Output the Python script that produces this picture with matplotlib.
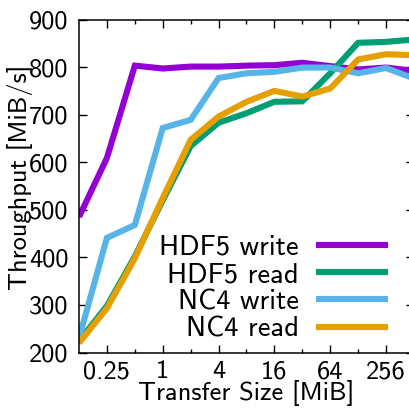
import matplotlib
matplotlib.use("Agg")
import matplotlib.pyplot as plt
from matplotlib.ticker import FixedLocator, FixedFormatter, NullFormatter

# ---- data ----
sizes = [0.125, 0.25, 0.5, 1, 2, 4, 8, 16, 32, 64, 128, 256, 512]
hdf5_write = [485, 609, 803, 797, 801, 801, 803, 804, 809, 802, 795, 799, 792]
hdf5_read = [224, 298, 402, 520, 634, 683, 703, 727, 728, 787, 851, 853, 858]
nc4_write = [230, 441, 468, 672, 689, 777, 787, 790, 799, 799, 787, 798, 776]
nc4_read = [220, 293, 398, 525, 647, 696, 727, 750, 738, 755, 816, 827, 825]

series = [
    ("HDF5 write", hdf5_write, "#9400D3"),
    ("HDF5 read", hdf5_read, "#009E73"),
    ("NC4 write", nc4_write, "#56B4E9"),
    ("NC4 read", nc4_read, "#E69F00"),
]

xticks_major = [0.25, 1, 4, 16, 64, 256]
xtick_labels = ["0.25", "1", "4", "16", "64", "256"]
xticks_minor = [0.5, 2, 8, 32, 128]
yticks = [200, 300, 400, 500, 600, 700, 800, 900]

plt.rcParams["font.family"] = ["cmss10", "DejaVu Sans"]
plt.rcParams["axes.unicode_minus"] = False
FS = 19
LFS = 20.5

fig = plt.figure(figsize=(4.1, 4.08), dpi=100)
ax = fig.add_axes([79 / 410, (408 - 352.5) / 408, 335 / 410, 333 / 408])

for label, vals, color in series:
    ax.plot(sizes, vals, color=color, lw=4.4, label=label, solid_joinstyle="miter",
            solid_capstyle="butt")

ax.set_xscale("log", base=2)
ax.set_xlim(0.125, 512)
ax.set_ylim(200, 900)

ax.xaxis.set_major_locator(FixedLocator(xticks_major))
ax.xaxis.set_major_formatter(FixedFormatter(xtick_labels))
ax.xaxis.set_minor_locator(FixedLocator(xticks_minor))
ax.xaxis.set_minor_formatter(NullFormatter())
ax.yaxis.set_major_locator(FixedLocator(yticks))
ax.yaxis.set_minor_locator(FixedLocator([]))

ax.tick_params(which="both", direction="in", top=True, right=True, width=1.0,
               labelsize=FS, colors="black")
ax.tick_params(which="major", length=5.6)
ax.tick_params(which="minor", length=3.0)
ax.tick_params(axis="x", which="major", pad=5.5)
ax.tick_params(axis="y", which="major", pad=7.5)
for sp in ax.spines.values():
    sp.set_linewidth(1.1)

ax.set_xlabel("Transfer Size [MiB]", fontsize=FS)
ax.set_ylabel("Throughput [MiB/s]", fontsize=FS)
ax.xaxis.set_label_coords(0.5, (352.5 - 400) / 333, transform=ax.transAxes)
ax.xaxis.label.set_va("baseline")
ax.yaxis.set_label_coords((20 - 79) / 335, (352.5 - 177) / 333, transform=ax.transAxes)
ax.yaxis.label.set_va("center")

leg = ax.legend(loc="center right", bbox_to_anchor=(0.923, 0.193), frameon=False,
                markerfirst=False, fontsize=LFS, handlelength=2.55, handletextpad=0.59,
                labelspacing=0.085, borderpad=0, borderaxespad=0)
try:
    for col in leg._legend_handle_box.get_children():
        col.align = "right"
except Exception:
    pass

fig.savefig("out.png", dpi=100)
